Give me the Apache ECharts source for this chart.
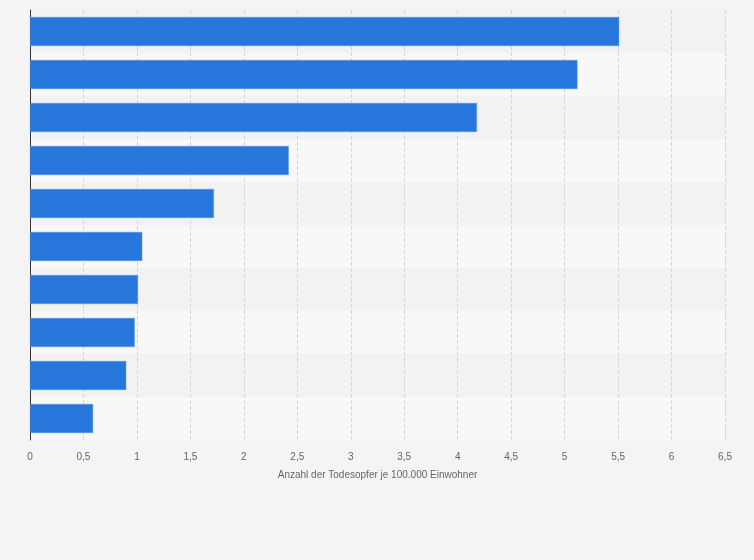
<!DOCTYPE html>
<html>
<head>
<meta charset="utf-8">
<script src="https://cdn.jsdelivr.net/npm/echarts@6/dist/echarts.min.js"></script>
<style>
  html, body { margin: 0; padding: 0; background: #f4f4f4; }
  #chart { width: 754px; height: 560px; }
</style>
</head>
<body>
<div id="chart"></div>
<script>
  // category names are not shown in the picture
  const categories = ['A', 'B', 'C', 'D', 'E', 'F', 'G', 'H', 'I', 'J'];
  const values = [5.51, 5.12, 4.18, 2.42, 1.72, 1.05, 1.01, 0.98, 0.9, 0.59];
  const tickLabels = ['0', '0,5', '1', '1,5', '2', '2,5', '3', '3,5', '4', '4,5', '5', '5,5', '6', '6,5'];

  const chart = echarts.init(document.getElementById('chart'));
  chart.setOption({
    backgroundColor: '#f4f4f4',
    animation: false,
    grid: { left: 30, right: 29, top: 10, bottom: 120, containLabel: false },
    xAxis: {
      type: 'value',
      min: 0,
      max: 6.5,
      interval: 0.5,
      name: 'Anzahl der Todesopfer je 100.000 Einwohner',
      nameLocation: 'middle',
      nameGap: 30,
      nameTextStyle: { color: '#666', fontSize: 10, fontFamily: 'Arial, Liberation Sans' },
      axisLine: { show: false },
      axisTick: { show: false },
      axisLabel: {
        color: '#666',
        fontSize: 10,
        margin: 12,
        fontFamily: 'Arial, Liberation Sans',
        formatter: v => tickLabels[Math.round(v * 2)]
      },
      splitLine: { show: true, lineStyle: { color: '#d6d6d6', type: 'dashed' } }
    },
    yAxis: {
      type: 'category',
      data: categories,
      inverse: true,
      axisLine: { show: true, lineStyle: { color: '#333', width: 1 } },
      axisTick: { show: false },
      axisLabel: { show: false },
      splitArea: { show: true, areaStyle: { color: ['#f2f2f2', '#f8f8f8'] } }
    },
    series: [{
      type: 'bar',
      data: values,
      barWidth: 29,
      itemStyle: { color: '#2776dc', borderColor: '#5b97e6', borderWidth: 0.5 }
    }]
  });
</script>
</body>
</html>
